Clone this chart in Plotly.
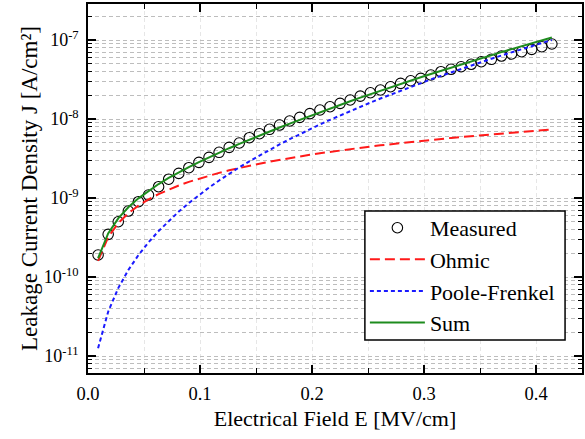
import plotly.graph_objects as go

# Electrical field E [MV/cm]
E = [0.009, 0.018, 0.027, 0.036, 0.045, 0.054, 0.063, 0.072, 0.081, 0.090,
     0.099, 0.108, 0.117, 0.126, 0.135, 0.144, 0.153, 0.162, 0.171, 0.180,
     0.189, 0.198, 0.207, 0.216, 0.225, 0.234, 0.243, 0.252, 0.261, 0.270,
     0.279, 0.288, 0.297, 0.306, 0.315, 0.324, 0.333, 0.342, 0.351, 0.360,
     0.369, 0.378, 0.387, 0.396, 0.405, 0.414]

measured = [1.90e-10, 3.47e-10, 5.01e-10, 6.84e-10, 8.98e-10, 1.09e-9, 1.39e-9, 1.73e-9, 2.05e-9, 2.42e-9,
            2.83e-9, 3.27e-9, 3.79e-9, 4.38e-9, 4.97e-9, 5.80e-9, 6.52e-9, 7.41e-9, 8.39e-9, 9.44e-9,
            1.05e-8, 1.17e-8, 1.30e-8, 1.43e-8, 1.58e-8, 1.74e-8, 1.95e-8, 2.15e-8, 2.33e-8, 2.56e-8,
            2.83e-8, 3.05e-8, 3.27e-8, 3.61e-8, 3.97e-8, 4.26e-8, 4.59e-8, 4.93e-8, 5.31e-8, 5.70e-8,
            6.27e-8, 6.65e-8, 7.11e-8, 7.62e-8, 8.22e-8, 8.90e-8]

ohmic = [1.602e-10, 3.204e-10, 4.806e-10, 6.408e-10, 8.010e-10, 9.612e-10, 1.121e-9, 1.282e-9, 1.442e-9, 1.602e-9,
         1.762e-9, 1.922e-9, 2.083e-9, 2.243e-9, 2.403e-9, 2.563e-9, 2.723e-9, 2.884e-9, 3.044e-9, 3.204e-9,
         3.364e-9, 3.524e-9, 3.685e-9, 3.845e-9, 4.005e-9, 4.165e-9, 4.325e-9, 4.486e-9, 4.646e-9, 4.806e-9,
         4.966e-9, 5.126e-9, 5.287e-9, 5.447e-9, 5.607e-9, 5.767e-9, 5.927e-9, 6.088e-9, 6.248e-9, 6.408e-9,
         6.568e-9, 6.728e-9, 6.889e-9, 7.049e-9, 7.209e-9, 7.369e-9]

poole_frenkel = [1.257e-11, 3.638e-11, 7.244e-11, 1.227e-10, 1.892e-10, 2.747e-10, 3.817e-10, 5.134e-10, 6.730e-10, 8.641e-10,
                 1.091e-9, 1.357e-9, 1.668e-9, 2.028e-9, 2.443e-9, 2.918e-9, 3.461e-9, 4.076e-9, 4.772e-9, 5.556e-9,
                 6.437e-9, 7.424e-9, 8.525e-9, 9.754e-9, 1.112e-8, 1.263e-8, 1.430e-8, 1.615e-8, 1.818e-8, 2.042e-8,
                 2.287e-8, 2.556e-8, 2.850e-8, 3.172e-8, 3.522e-8, 3.904e-8, 4.321e-8, 4.773e-8, 5.264e-8, 5.794e-8,
                 6.370e-8, 6.992e-8, 7.664e-8, 8.390e-8, 9.177e-8, 1.002e-7]

total = [1.728e-10, 3.568e-10, 5.530e-10, 7.635e-10, 9.902e-10, 1.236e-9, 1.503e-9, 1.795e-9, 2.115e-9, 2.466e-9,
         2.853e-9, 3.279e-9, 3.751e-9, 4.271e-9, 4.846e-9, 5.481e-9, 6.184e-9, 6.960e-9, 7.816e-9, 8.760e-9,
         9.801e-9, 1.0948e-8, 1.2210e-8, 1.3599e-8, 1.5125e-8, 1.6795e-8, 1.8625e-8, 2.0636e-8, 2.2826e-8, 2.5226e-8,
         2.7836e-8, 3.0686e-8, 3.3787e-8, 3.7167e-8, 4.0827e-8, 4.4807e-8, 4.9137e-8, 5.3818e-8, 5.8888e-8, 6.4348e-8,
         7.0268e-8, 7.6648e-8, 8.3529e-8, 9.0949e-8, 9.8979e-8, 1.0757e-7]

y_tick_values = [1e-11, 1e-10, 1e-9, 1e-8, 1e-7]
y_tick_labels = ["10<sup>-11</sup>", "10<sup>-10</sup>", "10<sup>-9</sup>", "10<sup>-8</sup>", "10<sup>-7</sup>"]

FONT = "Liberation Serif"

fig = go.Figure()
fig.add_trace(go.Scatter(x=E, y=measured, mode="markers", name="Measured", legendgroup="a",
                         marker=dict(symbol="circle-open", size=10.5, color="black", line=dict(width=1.1, color="black"))))
fig.add_trace(go.Scatter(x=E, y=ohmic, mode="lines", name="Ohmic", legendgroup="b",
                         line=dict(color="#ff1a1a", width=2, dash="10px,5px")))
fig.add_trace(go.Scatter(x=E, y=poole_frenkel, mode="lines", name="Poole-Frenkel", legendgroup="c",
                         line=dict(color="#1a1aff", width=2, dash="4px,3px")))
fig.add_trace(go.Scatter(x=E, y=total, mode="lines", name="Sum", legendgroup="d",
                         line=dict(color="#1e8c1e", width=2)))

# legend frame (box drawn behind the legend entries)
fig.add_shape(type="rect", xref="paper", yref="paper",
              x0=0.5605, x1=0.9657, y0=0.0894, y1=0.439,
              fillcolor="white", line=dict(color="black", width=1.5), layer="above")

fig.update_layout(
    width=585, height=439,
    margin=dict(l=88, r=1, t=4, b=66),
    paper_bgcolor="white", plot_bgcolor="white",
    font=dict(family=FONT, size=18, color="black"),
    showlegend=True,
    legend=dict(x=0.5605, y=0.450, xanchor="left", yanchor="top",
                bgcolor="rgba(0,0,0,0)", borderwidth=0,
                font=dict(family=FONT, size=22), traceorder="grouped",
                tracegroupgap=0, itemwidth=55),
)

fig.update_xaxes(
    range=[0, 0.4409], dtick=0.1, tick0=0, tickformat=".1f",
    showline=True, linecolor="black", linewidth=1.5, mirror="allticks",
    ticks="inside", ticklen=8, tickwidth=1.5, tickcolor="black",
    showgrid=True, gridcolor="#e6e6e6", gridwidth=1, griddash="4px,3px",
    minor=dict(dtick=0.05, ticks="inside", ticklen=5, tickwidth=1.2, tickcolor="black",
               showgrid=True, gridcolor="#e6e6e6", griddash="4px,3px"),
    zeroline=False, ticklabelstandoff=3, automargin=True,
    tickfont=dict(family=FONT, size=18.5),
    title=dict(text="Electrical Field E [MV/cm]", font=dict(family=FONT, size=22), standoff=8),
)

fig.update_yaxes(
    type="log", range=[-11.215, -6.544], tickmode="array",
    tickvals=y_tick_values, ticktext=y_tick_labels,
    showline=True, linecolor="black", linewidth=1.5, mirror="allticks",
    ticks="inside", ticklen=8, tickwidth=1.5, tickcolor="black",
    showgrid=True, gridcolor="#bdbdbd", gridwidth=1, griddash="4px,3px",
    minor=dict(tickmode="linear", dtick="D1", ticks="inside", ticklen=4, tickwidth=1.2, tickcolor="black",
               showgrid=True, gridcolor="#bdbdbd", griddash="4px,3px"),
    zeroline=False, ticklabelstandoff=4, automargin=True,
    tickfont=dict(family=FONT, size=18),
    title=dict(text="Leakage Current Density J [A/cm²]", font=dict(family=FONT, size=23), standoff=0),
)

fig.write_html("out.html")
